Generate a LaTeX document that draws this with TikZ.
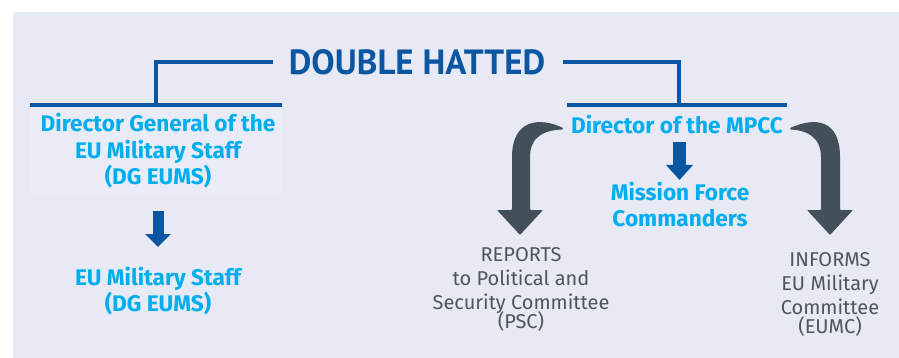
\documentclass[tikz,border=0pt]{standalone}
\usepackage{fontspec}
\setmainfont{PT Sans}
\newfontfamily\firafont{Fira Sans}
\usetikzlibrary{arrows.meta}
\definecolor{bg}{HTML}{E7E9F5}
\definecolor{bgl}{HTML}{E9EBF6}
\definecolor{dblue}{HTML}{0A56A3}
\definecolor{cyanb}{HTML}{00AEEF}
\definecolor{slate}{HTML}{434F59}
\definecolor{graytxt}{HTML}{4D565E}
\tikzset{
  titletxt/.style={inner sep=0pt, text=dblue, font=\fontsize{35}{40}\selectfont\bfseries},
  bluetxt/.style={inner sep=0pt, align=center, text=cyanb, font=\firafont\fontsize{22.6}{26.5}\selectfont\bfseries},
  greytxt/.style={inner sep=0pt, align=center, text=graytxt, font=\firafont\fontsize{20}{24}\selectfont},
  bline/.style={draw=dblue, line width=3.5pt},
  barrow/.style={draw=dblue, line width=11pt, -{Triangle[length=13pt,width=25pt]}},
  curvearrow/.style={fill=slate, rounded corners=0.8pt}
}
\begin{document}
\begin{tikzpicture}[x=1pt,y=-1pt]
\useasboundingbox (0,0) rectangle (899,358);
\fill[white] (0,0) rectangle (899,358);
\fill[bg] (13,12) rectangle (899,358);
\fill[bgl] (30,105) rectangle (282,196);

% texts
\node[titletxt] (t) at (417,62.5) {DOUBLE HATTED};
\node[bluetxt] (dg) at (158,151) {Director General of the\\EU Military Staff\\(DG EUMS)};
\node[bluetxt] (eums) at (158,291) {EU Military Staff\\(DG EUMS)};
\node[bluetxt] (mpcc) at (677,124.5) {Director of the MPCC};
\node[bluetxt] (mfc) at (680,204.5) {Mission Force\\Commanders};
\node[greytxt] (psc) at (521,289) {REPORTS\\to Political and\\Security Committee\\[-5pt](PSC)};
\node[greytxt] (eumc) at (830,294.5) {INFORMS\\EU Military\\Committee\\[-5pt](EUMC)};

% bracket coordinates
\coordinate (lt1) at (273,62);
\coordinate (lt2) at (156,62);
\coordinate (lt3) at (156,105);
\coordinate (lb1) at (30,105);
\coordinate (lb2) at (282,105);
\coordinate (rt1) at (563,62);
\coordinate (rt2) at (679,62);
\coordinate (rt3) at (679,105);
\coordinate (rb1) at (567,105);
\coordinate (rb2) at (787,105);
\draw[bline] (lt1) -- (lt2) -- (lt3);
\draw[bline] (lb1) -- (lb2);
\draw[bline] (rt1) -- (rt2) -- (rt3);
\draw[bline] (rb1) -- (rb2);

% straight arrows
\coordinate (a1s) at (158,211);
\coordinate (a1e) at (158,247);
\draw[barrow] (a1s) -- (a1e);
\coordinate (a2s) at (679.5,142);
\coordinate (a2e) at (679.5,180);
\draw[barrow, line width=13pt, -{Triangle[length=15pt,width=26pt]}] (a2s) -- (a2e);

% curved arrows
\fill[curvearrow] (563,128) .. controls (540,117) and (512,119) .. (512,158)
  -- (512,210) -- (497,210) -- (520,235) -- (543,210) -- (530,210) -- (530,158)
  .. controls (530,136) and (545,130) .. (563,129.5) -- cycle;
\fill[curvearrow] (790,128) .. controls (815,117) and (840,119) .. (840,158)
  -- (840,210) -- (853,210) -- (830,235) -- (807,210) -- (821,210) -- (821,158)
  .. controls (821,136) and (805,130) .. (790,129.5) -- cycle;
\end{tikzpicture}
\end{document}
